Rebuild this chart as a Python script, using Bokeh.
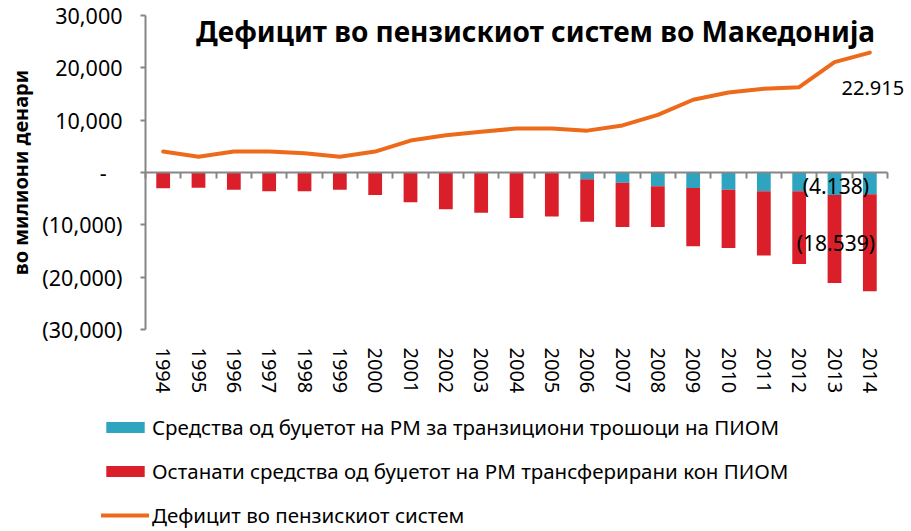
from bokeh.plotting import figure
from bokeh.models import (ColumnDataSource, FixedTicker, LinearAxis, Range1d,
                          Legend, LegendItem, Label)
from bokeh.embed import file_html
from bokeh.resources import INLINE

years = [str(y) for y in range(1994, 2015)]
budget_transition = [0, 0, 0, 0, 0, 0, 0, 0, 0, 0, 0, 0,
                     1300, 1950, 2640, 2960, 3290, 3600, 3600, 4300, 4138]
budget_other = [3000, 2900, 3300, 3600, 3600, 3300, 4300, 5700, 7000, 7700, 8700, 8400,
                8100, 8450, 7760, 11140, 11150, 12240, 13900, 16830, 18539]
deficit = [4000, 3000, 4000, 4000, 3700, 3000, 4000, 6100, 7100, 7800, 8400, 8400,
           8000, 9000, 11000, 13900, 15300, 16000, 16300, 21100, 22915]
y_ticks = [30000, 20000, 10000, 0, -10000, -20000, -30000]
y_tick_labels = ["30,000", "20,000", "10,000", "-\u2007\u2009", "(10,000)", "(20,000)", "(30,000)"]

title_text = "Дефицит во пензискиот систем во Македонија"
y_label = "во милиони денари"
series_names = ["Средства од буџетот на РМ за транзициони трошоци на ПИОМ",
                "Останати средства од буџетот на РМ трансферирани кон ПИОМ",
                "Дефицит во пензискиот систем"]

BLUE = "#2FA4C0"
RED = "#DA1F2A"
ORANGE = "#EE6A1B"
GRAY = "#868686"
FONT = "Noto Sans"

W, H = 911, 531
# plot-area geometry in pixels (the frame covers the whole canvas)
AX_LEFT, AX_RIGHT, AX_TOP, AX_BOTTOM = 145, 887, 15, 329

n = len(years)
xs = [i + 0.5 for i in range(n)]
y_max, y_min = max(y_ticks), min(y_ticks)
cat_px = (AX_RIGHT - AX_LEFT) / n
val_per_px = (y_max - y_min) / (AX_BOTTOM - AX_TOP)

src = ColumnDataSource(dict(
    x=xs,
    blue=[-v for v in budget_transition],
    red=[-v for v in budget_other],
    deficit=deficit,
))

p = figure(width=W, height=H, output_backend="svg", toolbar_location=None,
           x_range=Range1d(-AX_LEFT / cat_px, (W - AX_LEFT) / cat_px),
           y_range=Range1d(y_max - (H - AX_TOP) * val_per_px, y_max + AX_TOP * val_per_px),
           x_axis_location=None, y_axis_location=None, min_border=0)
p.title.visible = False
p.outline_line_color = None
p.xgrid.visible = False
p.ygrid.visible = False
p.background_fill_color = "white"
p.border_fill_color = "white"

bars = p.vbar_stack(["blue", "red"], x="x", width=0.39, source=src,
                    color=[BLUE, RED], line_color=None)
line = p.line("x", "deficit", source=src, line_width=4, color=ORANGE,
              line_join="round", line_cap="round")

# y axis
ya = LinearAxis(fixed_location=0, bounds=(y_min, y_max), ticker=FixedTicker(ticks=y_ticks))
ya.major_label_overrides = {t: l for t, l in zip(y_ticks, y_tick_labels)}
ya.axis_line_color = GRAY
ya.axis_line_width = 2
ya.major_tick_line_color = GRAY
ya.major_tick_line_width = 2
ya.major_tick_in = 0
ya.major_tick_out = 5
ya.minor_tick_line_color = None
ya.major_label_standoff = 18
ya.major_label_text_font = FONT
ya.major_label_text_font_size = "21.5px"
ya.major_label_text_color = "black"
ya.axis_label = y_label
ya.axis_label_text_font = FONT
ya.axis_label_text_font_size = "20px"
ya.axis_label_text_font_style = "bold"
ya.axis_label_text_color = "black"
ya.axis_label_standoff = 5
p.add_layout(ya, "left")

# x axis with year labels, under the plot area
xa = LinearAxis(fixed_location=y_min, ticker=FixedTicker(ticks=xs))
xa.major_label_overrides = {x: y for x, y in zip(xs, years)}
xa.axis_line_color = None
xa.major_tick_line_color = None
xa.minor_tick_line_color = None
xa.major_tick_out = 0
xa.major_tick_in = 0
xa.major_label_orientation = "vertical"
xa.major_label_standoff = 18
xa.major_label_text_font = FONT
xa.major_label_text_font_size = "20px"
xa.major_label_text_color = "black"
p.add_layout(xa, "below")

# zero axis with ticks between categories
za = LinearAxis(fixed_location=0, ticker=FixedTicker(ticks=list(range(n + 1))),
                bounds=(0, n))
za.axis_line_color = GRAY
za.axis_line_width = 2
za.major_tick_line_color = GRAY
za.major_tick_line_width = 2
za.major_tick_in = 0
za.major_tick_out = 6
za.minor_tick_line_color = None
za.major_label_text_font_size = "0px"
za.major_label_text_color = None
p.add_layout(za, "below")

# data labels on the last year
last = xs[-1]
p.add_layout(Label(x=last, y=-budget_transition[-1] / 2, x_offset=-34, y_offset=-3,
                   text="(%.3f)" % (budget_transition[-1] / 1000),
                   text_align="center", text_baseline="middle",
                   text_font=FONT, text_font_size="21px", text_color="black"))
p.add_layout(Label(x=last, y=-budget_transition[-1] - budget_other[-1] / 2, x_offset=-34, y_offset=0,
                   text="(%.3f)" % (budget_other[-1] / 1000),
                   text_align="center", text_baseline="middle",
                   text_font=FONT, text_font_size="21px", text_color="black"))
p.add_layout(Label(x=last, y=deficit[-1], x_offset=3, y_offset=-35,
                   text="%.3f" % (deficit[-1] / 1000),
                   text_align="center", text_baseline="middle",
                   text_font=FONT, text_font_size="20px", text_color="black"))

# title drawn inside the plot area
p.add_layout(Label(x=n / 2, y=27100, x_offset=19, text=title_text,
                   text_align="center", text_baseline="middle",
                   text_font=FONT, text_font_size="28px", text_font_style="bold",
                   text_color="black"))

legend = Legend(items=[LegendItem(label=series_names[0], renderers=[bars[0]]),
                       LegendItem(label=series_names[1], renderers=[bars[1]]),
                       LegendItem(label=series_names[2], renderers=[line])],
                location=(101, 2), orientation="vertical",
                border_line_color=None, background_fill_alpha=0,
                glyph_width=48, glyph_height=14, label_standoff=3,
                label_height=20, spacing=16, padding=0, margin=0,
                label_text_font=FONT, label_text_font_size="20.5px",
                label_text_color="black")
p.add_layout(legend, "center")

open("out.html", "w").write(file_html(p, INLINE))
